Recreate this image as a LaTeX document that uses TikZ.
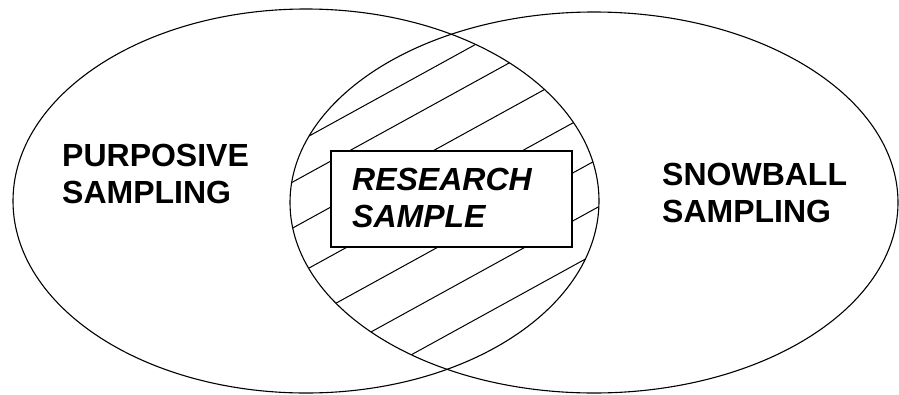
\documentclass[tikz,border=0pt]{standalone}
\usepackage{fontspec}
\setmainfont{Liberation Sans}
\begin{document}
\begin{tikzpicture}[x=1pt,y=-1pt,
  setline/.style={line width=1.1pt},
  hatchline/.style={line width=1.0pt},
  samplebox/.style={draw,line width=1.4pt,fill=white,inner sep=0pt,minimum width=241pt,minimum height=96pt},
  labeltext/.style={font=\fontsize{32}{37}\selectfont\bfseries,align=left,inner sep=0pt,anchor=north west}]
\useasboundingbox (0,0) rectangle (899,394);
% hatching of the intersection
\begin{scope}
  \clip (306,201) ellipse [x radius=293pt, y radius=192pt];
  \clip (594,202.5) ellipse [x radius=304pt, y radius=190.5pt];
  \foreach \c in {306,343,389,438,488,536,581}{
    \draw[hatchline] (250,{\c-0.55*250}) -- (650,{\c-0.55*650});
  }
\end{scope}
% the two sets
\draw[setline] (306,201) ellipse [x radius=293pt, y radius=192pt];
\draw[setline] (594,202.5) ellipse [x radius=304pt, y radius=190.5pt];
% research sample box
\node[samplebox] (box) at (451.5,199) {};
\node[labeltext,font=\fontsize{32}{37}\selectfont\bfseries\itshape] (rs) at (352,168) {RESEARCH\\SAMPLE};
% labels
\node[labeltext] (ps) at (62,144) {PURPOSIVE\\SAMPLING};
\node[labeltext] (sb) at (662,163) {SNOWBALL\\SAMPLING};
\end{tikzpicture}
\end{document}
